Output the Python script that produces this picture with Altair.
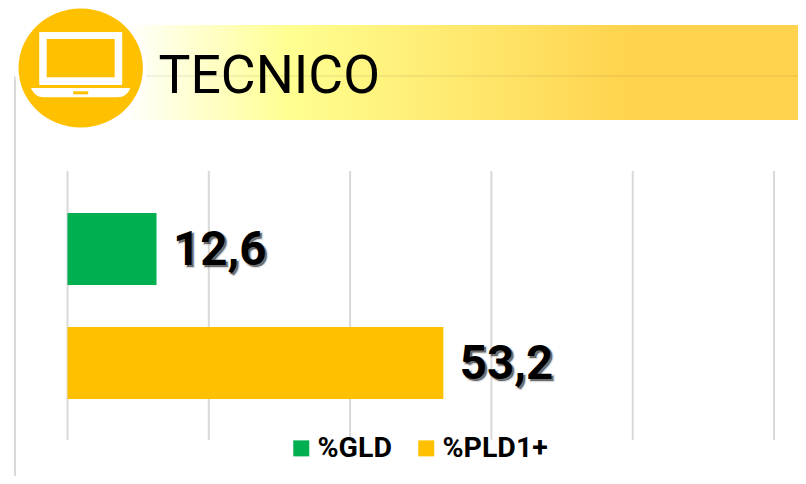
import altair as alt
import pandas as pd

# Data
categories = ["%GLD", "%PLD1+"]
values = [12.6, 53.2]
labels = ["12,6", "53,2"]
colors = ["#00B050", "#FFC000"]
grid_ticks = [0, 20, 40, 60, 80, 100]
title_text = ["TECNICO"]

df = pd.DataFrame({"cat": categories, "val": values, "lab": labels})
grid_df = pd.DataFrame({"t": grid_ticks})

x_scale = alt.Scale(domain=[0, 100], range=[59.5, 766], nice=False, zero=False)
y_scale = alt.Scale(domain=categories, range=[184, 412], paddingInner=0.368, paddingOuter=0.184)
X = alt.X("val:Q", scale=x_scale, axis=None)
Y = alt.Y("cat:N", scale=y_scale, axis=None)
one = pd.DataFrame({"a": [0]})
base = alt.Chart(one)
FONT = "Roboto"

vline = base.mark_rule(color="#D9D9D9", strokeWidth=2).encode(
    x=alt.value(7), y=alt.value(68), y2=alt.value(468))
band = base.mark_rect(
    fill=alt.Gradient(gradient="linear", x1=0, x2=1, y1=0, y2=0, stops=[
        alt.GradientStop(color="#FFFFFF", offset=0),
        alt.GradientStop(color="#FFFF91", offset=0.24),
        alt.GradientStop(color="#FFD34D", offset=0.74),
        alt.GradientStop(color="#FFD34D", offset=1),
    ])
).encode(x=alt.value(117), x2=alt.value(798), y=alt.value(17), y2=alt.value(112))
hline = base.mark_rule(color="#000000", opacity=0.05, strokeWidth=2).encode(
    x=alt.value(100), x2=alt.value(798), y=alt.value(68))

ELLIPSE = "M -{a} 0 A {a} {b} 0 1 0 {a} 0 A {a} {b} 0 1 0 -{a} 0 Z"
ring = base.mark_point(shape=ELLIPSE.format(a=66, b=63), size=4, filled=True, fill="#FFFFFF", opacity=1, stroke=None).encode(
    x=alt.value(72.7), y=alt.value(60))
disc = base.mark_point(shape=ELLIPSE.format(a=62.2, b=59.5), size=4, filled=True, fill="#FFC000", opacity=1, stroke=None).encode(
    x=alt.value(72.7), y=alt.value(60))

# laptop icon, in pixels around the disc centre
screen_outer = "M -41 -36 L 41 -36 Q 41.5 -36 41.5 -35 L 41.5 16 Q 41.5 17 41 17 L -41 17 Q -41.5 17 -41.5 16 L -41.5 -35 Q -41.5 -36 -41 -36 Z"
screen_inner = "M -34 -29 L 34 -29 L 34 9.3 L -34 9.3 Z"
laptop_base = "M -49.7 20 L 49.7 20 Q 46 29.3 37 29.3 L -37 29.3 Q -46 29.3 -49.7 20 Z"
notch = "M -7.5 23.3 L 7.5 23.3 L 7.5 26.3 L -7.5 26.3 Z"
icon = alt.layer(*[
    base.mark_point(shape=p, size=4, filled=True, fill=c, opacity=1, stroke=None).encode(
        x=alt.value(72.7), y=alt.value(60))
    for p, c in [(screen_outer, "#FFFFFF"), (screen_inner, "#FFC000"),
                 (laptop_base, "#FFFFFF"), (notch, "#FFC000")]
])

title = alt.Chart(pd.DataFrame({"t": title_text})).mark_text(
    font=FONT, fontSize=53.5, fontWeight=400, color="#000000", align="left", baseline="alphabetic"
).encode(x=alt.value(150.5), y=alt.value(84.7), text="t:N")

grid = alt.Chart(grid_df).mark_rule(color="#D9D9D9", strokeWidth=2).encode(
    x=alt.X("t:Q", scale=x_scale, axis=None), y=alt.value(163), y2=alt.value(432))

bars = alt.Chart(df).mark_bar(size=72).encode(
    x=alt.X("val:Q", scale=x_scale, axis=None),
    x2=alt.datum(0),
    y=Y,
    color=alt.Color("cat:N", scale=alt.Scale(domain=categories, range=colors), legend=alt.Legend(
        title=None, orient="none", legendX=279, legendY=426, direction="horizontal",
        symbolType="square", symbolSize=256, symbolStrokeWidth=0, symbolOpacity=1,
        labelFont=FONT, labelFontSize=28.5, labelFontWeight="bold", labelColor="#000000",
        labelOffset=2, columnPadding=20, padding=0, labelLimit=200, symbolOffset=0)),
)

# one soft offset copy stands in for the reference's blurred text shadow
shadow = alt.Chart(df).mark_text(
    font=FONT, fontSize=47.5, fontWeight="bold", align="left", baseline="middle",
    fill="#000000", fillOpacity=0.55, stroke="#000000", strokeWidth=2.5, strokeOpacity=0.15,
    dx=18.5, dy=4
).encode(x=X, y=Y, text="lab:N")
vals = alt.Chart(df).mark_text(
    font=FONT, fontSize=47.5, fontWeight="bold", align="left", baseline="middle",
    color="#000000", dx=16.5, dy=2
).encode(x=X, y=Y, text="lab:N")

chart = alt.layer(vline, band, hline, ring, disc, icon, title, grid, bars, shadow, vals).properties(
    width=790, height=468, padding=0,
    autosize=alt.AutoSizeParams(type="none"),
    background="#FFFFFF",
).configure_view(stroke=None)

chart.save("out.html", embed_options={"renderer": "svg", "actions": False})
